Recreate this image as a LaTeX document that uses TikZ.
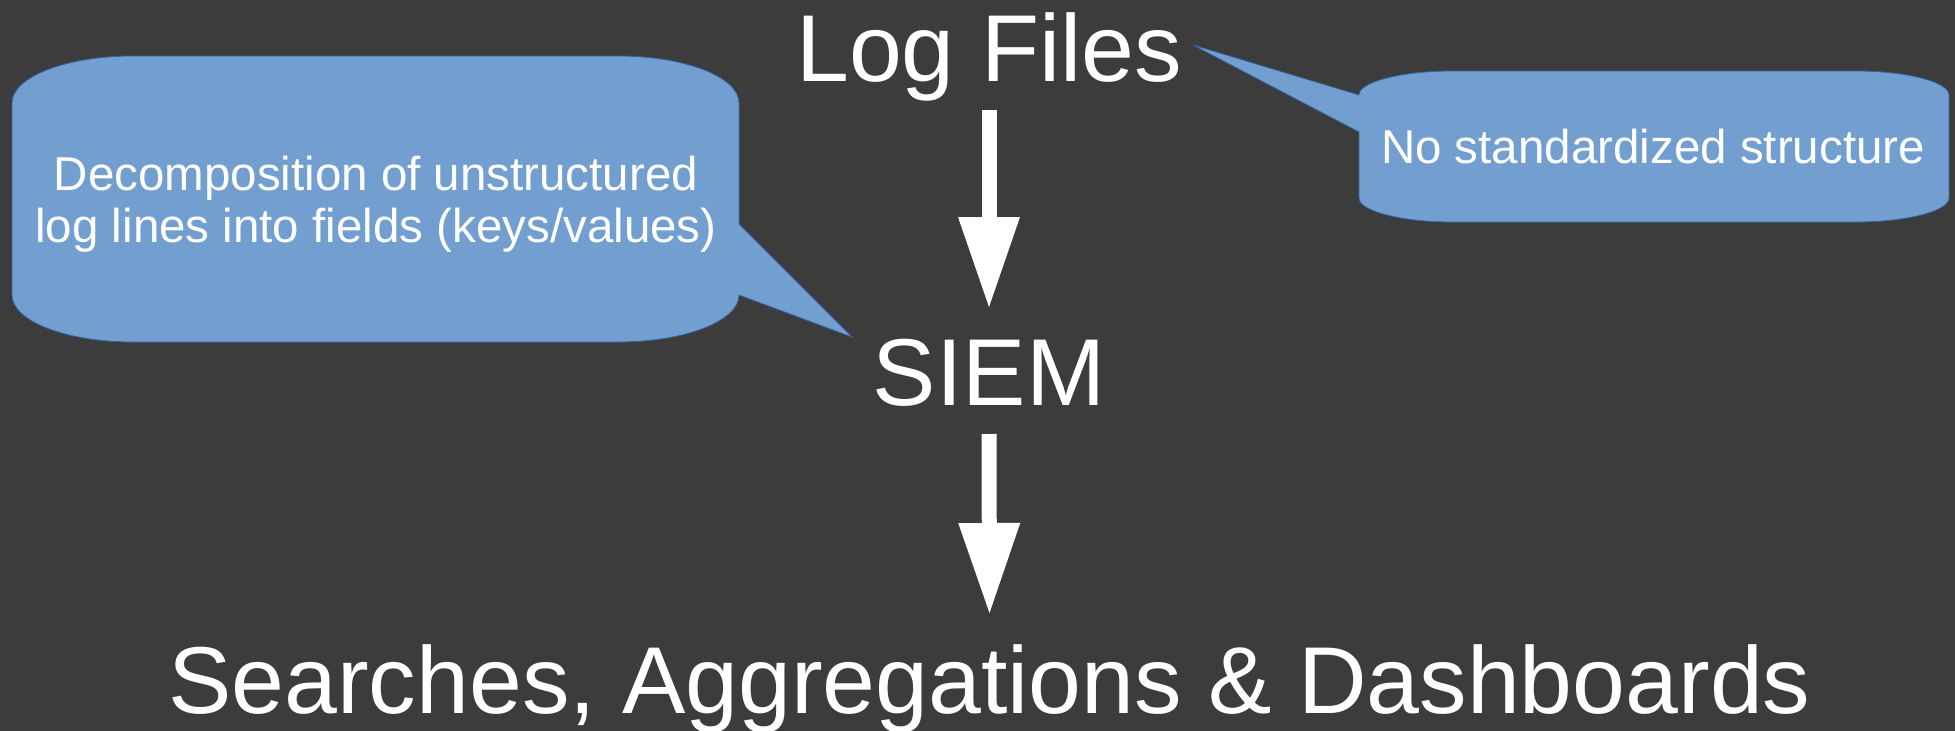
\documentclass[tikz,border=0pt]{standalone}
\usepackage{fontspec}
\setmainfont{Liberation Sans}
\usetikzlibrary{arrows.meta}
\definecolor{bg}{HTML}{3C3C3C}
\definecolor{callfill}{HTML}{729FCF}
\definecolor{calldraw}{HTML}{3465A4}
\tikzset{
  bigtext/.style={text=white, inner sep=0pt, anchor=base, font=\fontsize{95pt}{105pt}\selectfont},
  calltext/.style={text=white, inner sep=0pt, align=center, font=\fontsize{47.5pt}{52pt}\selectfont},
  callout/.style={fill=callfill, draw=calldraw, line width=0.8pt},
  bigarrow/.style={draw=white, line width=15pt, -{Triangle[width=62pt,length=90pt,line width=0pt]}}
}
\begin{document}
\begin{tikzpicture}[x=1pt,y=-1pt]
\fill[bg] (0,0) rectangle (1955,731);
\useasboundingbox (0,0) rectangle (1955,731);
% left callout
\path[callout] (133,56) -- (618,56) .. controls (685,56) and (739,77) .. (739,103)
  -- (739,224) -- (852,337) -- (739,295)
  .. controls (739,321) and (685,342) .. (618,342) -- (133,342)
  .. controls (66,342) and (12,321) .. (12,295) -- (12,103)
  .. controls (12,77) and (66,56) .. (133,56) -- cycle;
% right callout
\path[callout] (1452,71) -- (1856,71) .. controls (1907,71) and (1949,82) .. (1949,95)
  -- (1949,198) .. controls (1949,211) and (1907,222) .. (1856,222) -- (1452,222)
  .. controls (1401,222) and (1359,211) .. (1359,198) -- (1359,132) -- (1193,45) -- (1359,95)
  .. controls (1359,82) and (1401,71) .. (1452,71) -- cycle;
\node[calltext] (decomp) at (376,204) {Decomposition of unstructured\\log lines into fields (keys/values)};
\node[calltext, anchor=base] (nostd) at (1653,163) {No standardized structure};
% main flow
\node[bigtext] (lf) at (989,81) {Log Files};
\node[bigtext] (siem) at (989,405) {SIEM};
\node[bigtext] (search) at (989.5,713) {Searches, Aggregations \& Dashboards};
\draw[bigarrow] ([yshift=-29pt]lf.base) -- ([yshift=98pt]siem.base);
\draw[bigarrow] ([yshift=-29pt]siem.base) -- ([yshift=100pt]search.base);
\end{tikzpicture}
\end{document}
